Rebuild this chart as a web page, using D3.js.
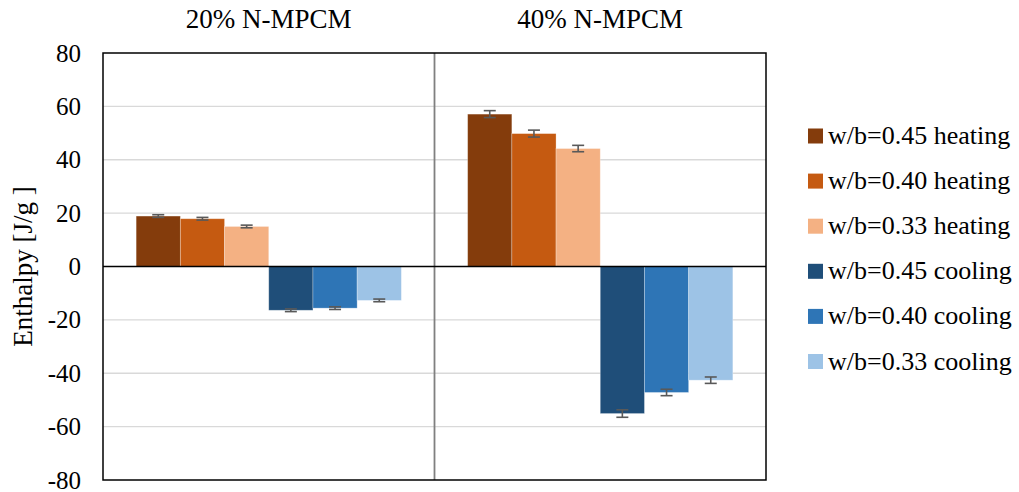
<!DOCTYPE html>
<html>
<head>
<meta charset="utf-8">
<script src="https://cdn.jsdelivr.net/npm/d3@7"></script>
<style>
  body { margin: 0; background: #fff; }
  text { font-family: "Liberation Serif", "Times New Roman", serif; fill: #000; }
</style>
</head>
<body>
<div id="chart"></div>
<script>
// groups, series and values
var groups = ["20% N-MPCM", "40% N-MPCM"];
var series = ["w/b=0.45 heating", "w/b=0.40 heating", "w/b=0.33 heating",
              "w/b=0.45 cooling", "w/b=0.40 cooling", "w/b=0.33 cooling"];
var colors = ["#843C0C", "#C55A11", "#F4B183", "#1F4E79", "#2E75B6", "#9DC3E6"];
var values20 = [18.9, 17.9, 15.0, -16.4, -15.6, -12.7];
var values40 = [57.1, 49.8, 44.2, -55.1, -47.2, -42.6];
var errors20 = [0.5, 0.5, 0.5, 0.5, 0.5, 0.5];
var errors40 = [1.3, 1.3, 1.2, 1.4, 1.2, 1.2];
var yTicks = [-80, -60, -40, -20, 0, 20, 40, 60, 80];

var width = 1019, height = 492;
var margin = { top: 53, right: 253, bottom: 12, left: 103 };

var svg = d3.select("#chart").append("svg")
  .attr("width", width)
  .attr("height", height);

var x0 = d3.scaleBand()
  .domain(groups)
  .range([margin.left, width - margin.right]);

// Excel-like gap width of 75% on each side of the cluster
var x1 = d3.scaleBand()
  .domain(series)
  .range([0, x0.bandwidth()])
  .paddingInner(0)
  .paddingOuter(0.75);

var y = d3.scaleLinear()
  .domain([-80, 80])
  .range([height - margin.bottom, margin.top]);

// gridlines
svg.append("g")
  .selectAll("line")
  .data(yTicks.filter(function (d) { return d !== 0 && Math.abs(d) !== 80; }))
  .enter().append("line")
  .attr("x1", margin.left).attr("x2", width - margin.right)
  .attr("y1", function (d) { return y(d); })
  .attr("y2", function (d) { return y(d); })
  .attr("stroke", "#d9d9d9")
  .attr("stroke-width", 1.3);

// divider between the two groups
svg.append("line")
  .attr("x1", x0(groups[1])).attr("x2", x0(groups[1]))
  .attr("y1", y(80)).attr("y2", y(-80))
  .attr("stroke", "#808080")
  .attr("stroke-width", 1.8);

var data = [];
groups.forEach(function (g, gi) {
  var vals = gi === 0 ? values20 : values40;
  var errs = gi === 0 ? errors20 : errors40;
  series.forEach(function (s, si) {
    data.push({ group: g, series: s, value: vals[si], err: errs[si], color: colors[si] });
  });
});

// bars
svg.append("g")
  .selectAll("rect")
  .data(data)
  .enter().append("rect")
  .attr("x", function (d) { return x0(d.group) + x1(d.series); })
  .attr("width", x1.bandwidth())
  .attr("y", function (d) { return y(Math.max(0, d.value)); })
  .attr("height", function (d) { return Math.abs(y(d.value) - y(0)); })
  .attr("fill", function (d) { return d.color; })
  .attr("stroke", "#ffffff")
  .attr("stroke-opacity", 0.35)
  .attr("stroke-width", 0.8);

// error bars
var eb = svg.append("g")
  .selectAll("g")
  .data(data)
  .enter().append("g")
  .attr("stroke", "#595959")
  .attr("stroke-width", 1.6);

function cx(d) { return x0(d.group) + x1(d.series) + x1.bandwidth() / 2; }

eb.append("line")
  .attr("x1", cx).attr("x2", cx)
  .attr("y1", function (d) { return y(d.value - d.err); })
  .attr("y2", function (d) { return y(d.value + d.err); });

[-1, 1].forEach(function (sign) {
  eb.append("line")
    .attr("x1", function (d) { return cx(d) - 6; })
    .attr("x2", function (d) { return cx(d) + 6; })
    .attr("y1", function (d) { return y(d.value + sign * d.err); })
    .attr("y2", function (d) { return y(d.value + sign * d.err); });
});

// zero line
svg.append("line")
  .attr("x1", margin.left).attr("x2", width - margin.right)
  .attr("y1", y(0)).attr("y2", y(0))
  .attr("stroke", "#000")
  .attr("stroke-width", 1.5);

// plot frame
svg.append("rect")
  .attr("x", margin.left)
  .attr("y", margin.top)
  .attr("width", width - margin.right - margin.left)
  .attr("height", y(-80) - y(80))
  .attr("fill", "none")
  .attr("stroke", "#000")
  .attr("stroke-width", 1.5);

// y axis labels (plain hyphen for negatives)
var yAxis = svg.append("g")
  .attr("transform", "translate(" + margin.left + ",0)")
  .call(d3.axisLeft(y).tickValues(yTicks).tickSize(0).tickPadding(22)
    .tickFormat(function (d) { return String(d); }));
yAxis.select(".domain").remove();
yAxis.selectAll("text")
  .style("font-family", "Liberation Serif, Times New Roman, serif")
  .style("font-size", "25px")
  .attr("fill", "#000");

// y axis title
svg.append("text")
  .attr("transform", "translate(32," + y(0) + ") rotate(-90)")
  .attr("text-anchor", "middle")
  .style("font-size", "27px")
  .text("Enthalpy [J/g ]");

// group titles
svg.append("g")
  .selectAll("text")
  .data(groups)
  .enter().append("text")
  .attr("x", function (d) { return x0(d) + x0.bandwidth() / 2; })
  .attr("y", 28)
  .attr("text-anchor", "middle")
  .style("font-size", "27px")
  .text(function (d) { return d; });

// legend
var legend = svg.append("g")
  .selectAll("g")
  .data(series)
  .enter().append("g")
  .attr("transform", function (d, i) { return "translate(808," + (136 + i * 45.1) + ")"; });

legend.append("rect")
  .attr("x", 0).attr("y", -7.5)
  .attr("width", 15).attr("height", 15)
  .attr("fill", function (d, i) { return colors[i]; });

legend.append("text")
  .attr("x", 20)
  .attr("y", 8)
  .style("font-size", "26px")
  .text(function (d) { return d; });
</script>
</body>
</html>
